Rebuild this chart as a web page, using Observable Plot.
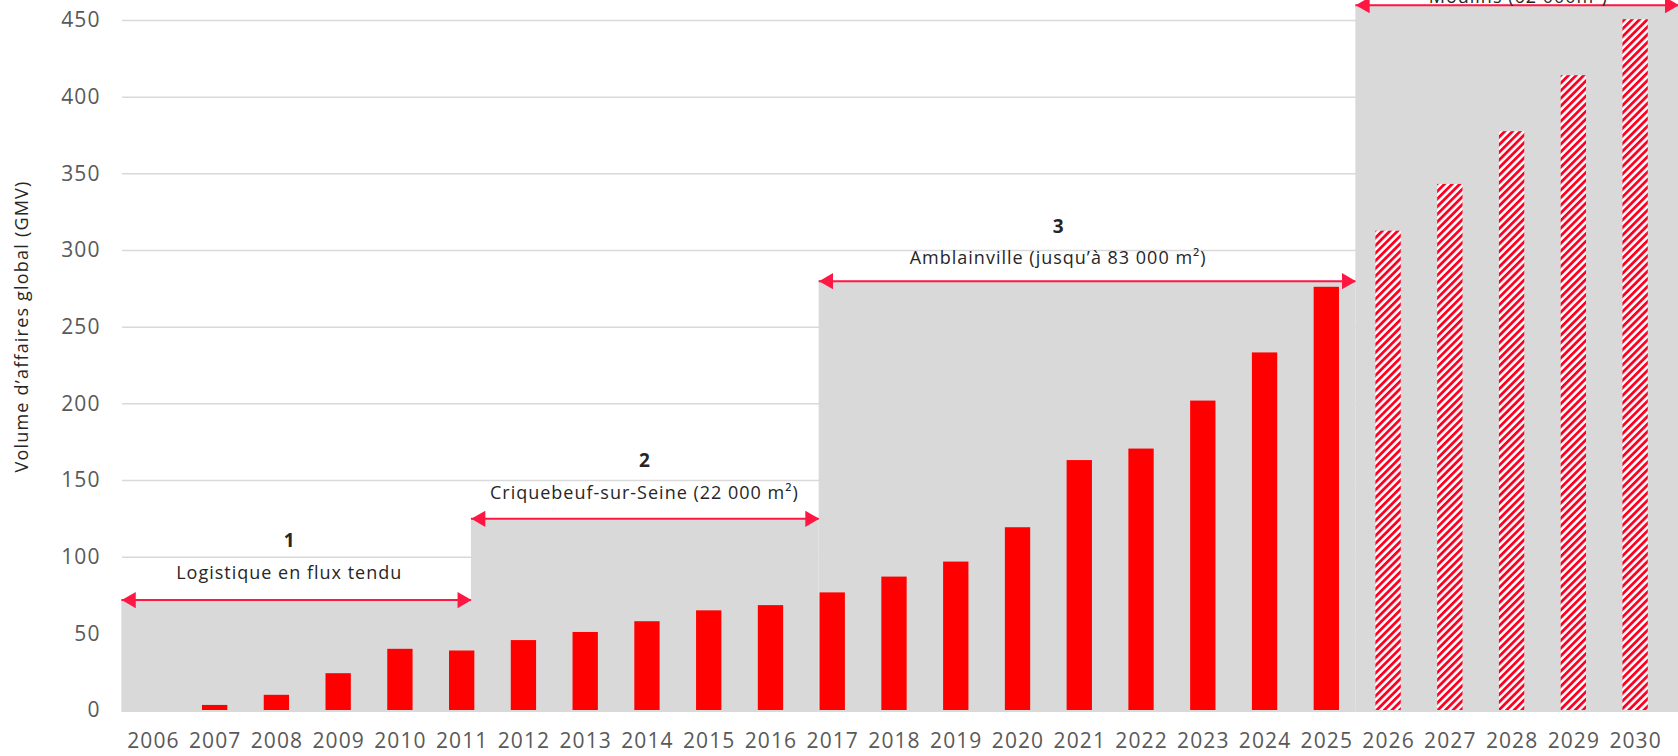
<!DOCTYPE html>
<html>
<head>
<meta charset="utf-8">
<script src="https://cdn.jsdelivr.net/npm/d3@7"></script>
<script src="https://cdn.jsdelivr.net/npm/@observablehq/plot@0.6"></script>
<style>
  html, body { margin: 0; padding: 0; background: #ffffff; overflow: hidden; }
</style>
</head>
<body>
<div id="chart"></div>
<script>
// ---- Data ----
const years = [2006, 2007, 2008, 2009, 2010, 2011, 2012, 2013, 2014, 2015, 2016, 2017, 2018,
               2019, 2020, 2021, 2022, 2023, 2024, 2025, 2026, 2027, 2028, 2029, 2030];
const gmv = [0, 3.3, 9.9, 24, 39.9, 38.8, 45.6, 50.9, 57.9, 65, 68.4, 76.7, 87,
             96.8, 119.2, 163, 170.5, 201.8, 233.2, 276, 312.6, 343.1, 377.5, 414, 450.5];
const firstForecastYear = 2026;

const yTicks = [0, 50, 100, 150, 200, 250, 300, 350, 400, 450];

const phaseNumbers = ["1", "2", "3", "4"];
const phaseLabels = [
  "Logistique en flux tendu",
  "Criquebeuf-sur-Seine (22 000 m²)",
  "Amblainville (jusqu’à 83 000 m²)",
  "Moulins (62 000m²)"
];
const phaseStart = [2005.49, 2011.15, 2016.78, 2025.47];
const phaseEnd = [2011.15, 2016.78, 2025.47, 2030.7];
const phaseLevel = [72, 125, 280, 460];
const phaseLabelYear = [2008.2, 2013.95, 2020.65, 2028.1];
const phaseLabelLevel = [89.5, 142, 295, 465];
const phaseNumberLevel = [110.4, 163, 315.3, 486];

const yTitle = "Volume d’affaires global (GMV)";

// ---- Tables ----
const table = years.map((year, i) => ({year, value: gmv[i]}));
const actual = table.filter(d => d.year < firstForecastYear && d.value > 0);
const forecast = table.filter(d => d.year >= firstForecastYear);
const phases = phaseNumbers.map((n, i) => ({
  n, label: phaseLabels[i], start: phaseStart[i], end: phaseEnd[i], level: phaseLevel[i],
  labelX: phaseLabelYear[i], labelY: phaseLabelLevel[i], numberY: phaseNumberLevel[i]
}));

const font = "'Open Sans', 'Noto Sans', sans-serif";
const arrowColor = "#ff1744";
const halfBar = 0.205;

const svg = Plot.plot({
  width: 1678,
  height: 756,
  marginTop: 20,
  marginBottom: 46,
  marginLeft: 122,
  marginRight: 12,
  style: {fontFamily: font, background: "#ffffff", overflow: "visible"},
  x: {type: "linear", domain: [2005.5, 2030.5]},
  y: {domain: [0, 450]},
  marks: [
    Plot.gridY(yTicks, {stroke: "#d9d9d9", strokeOpacity: 1, strokeWidth: 1.5}),
    Plot.rectY(phases, {x1: "start", x2: "end", y1: 0, y2: "level", fill: "#d9d9d9", insetBottom: -2}),
    Plot.rectY(actual, {x1: d => d.year - halfBar, x2: d => d.year + halfBar, y: "value", fill: "#ff0000"}),
    Plot.rectY(forecast, {x1: d => d.year - halfBar, x2: d => d.year + halfBar, y: "value", fill: "url(#hatch)"}),
    Plot.ruleY(phases, {x1: "start", x2: "end", y: "level", stroke: arrowColor, strokeWidth: 2}),
    Plot.dot(phases, {x: "start", y: "level", symbol: "triangle", r: 6, fill: arrowColor, rotate: -90, dx: 9.2}),
    Plot.dot(phases, {x: "end", y: "level", symbol: "triangle", r: 6, fill: arrowColor, rotate: 90, dx: -9.2}),
    Plot.text(phases, {x: "labelX", y: "labelY", text: "label", fontSize: 18, fill: "#262626", lineAnchor: "middle"}),
    Plot.text(phases, {x: "labelX", y: "numberY", text: "n", fontSize: 19, fontWeight: "bold", fill: "#262626", lineAnchor: "middle"}),
    Plot.text([yTitle], {frameAnchor: "left", textAnchor: "middle", rotate: -90, dx: -100.6, dy: -39, fontSize: 18, fill: "#262626"}),
    Plot.axisY({ticks: yTicks, tickSize: 0, tickPadding: 22, fontSize: 21, fill: "#595959", label: null}),
    Plot.axisX({ticks: years, tickFormat: d => `${d}`, tickSize: 0, tickPadding: 23, fontSize: 21, fill: "#595959", label: null})
  ]
});

const sel = d3.select(svg);
sel.selectAll("text").filter(function() { return phaseLabels.includes(this.textContent); })
  .style("letter-spacing", "1px");
sel.selectAll("text").filter(function() { return this.textContent === yTitle; })
  .style("letter-spacing", "1.2px");
sel.selectAll('g[aria-label="y-axis tick label"], g[aria-label="x-axis tick label"]').style("letter-spacing", "1.1px");

const defs = sel.insert("defs", ":first-child");
const pat = defs.append("pattern")
  .attr("id", "hatch")
  .attr("patternUnits", "userSpaceOnUse")
  .attr("width", 5.4)
  .attr("height", 5.4)
  .attr("patternTransform", "rotate(45)");
pat.append("rect").attr("width", 5.4).attr("height", 5.4).attr("fill", "#ffffff");
pat.append("rect").attr("width", 2.8).attr("height", 5.4).attr("fill", "#ff0022");

document.getElementById("chart").appendChild(svg);
</script>
</body>
</html>
